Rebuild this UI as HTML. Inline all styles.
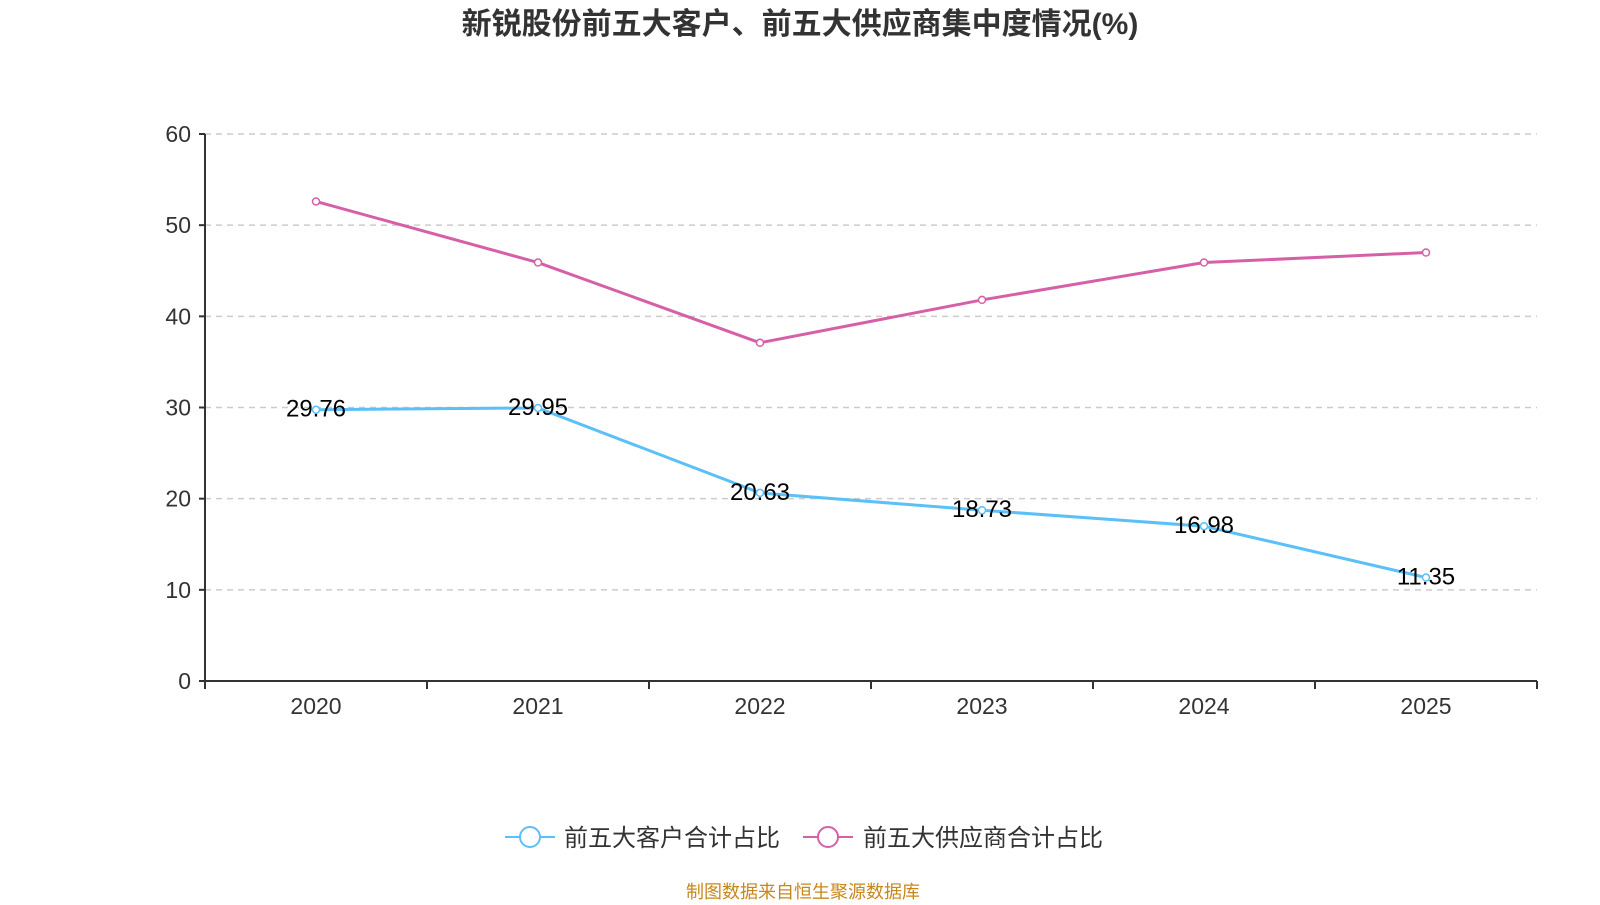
<!DOCTYPE html>
<html><head><meta charset="utf-8"><style>
body{margin:0;background:#fff;width:1600px;height:900px;overflow:hidden;font-family:"Liberation Sans","Noto Sans CJK SC",sans-serif}
</style></head><body>
<svg id="c" width="1600" height="900">
<text x="800" y="34" text-anchor="middle" font-size="30" font-weight="bold" fill="#333">新锐股份前五大客户、前五大供应商集中度情况(%)</text>
<g id="grid"></g><g id="axes"></g><g id="series"></g>
<g>
<g><line x1="505" y1="837" x2="555" y2="837" stroke="#5bc0f8" stroke-width="2"/><circle cx="530" cy="837" r="10" fill="#fff" stroke="#5bc0f8" stroke-width="2"/><text x="564" y="846" font-size="24" fill="#333">前五大客户合计占比</text></g>
<g><line x1="803" y1="837" x2="853" y2="837" stroke="#d660a8" stroke-width="2"/><circle cx="828" cy="837" r="10" fill="#fff" stroke="#d660a8" stroke-width="2"/><text x="863" y="846" font-size="24" fill="#333">前五大供应商合计占比</text></g>
</g>
<text x="803" y="898" text-anchor="middle" font-size="18" fill="#c8871a">制图数据来自恒生聚源数据库</text>
</svg>
<script>
const categories=["2020","2021","2022","2023","2024","2025"];
const customers=[29.76,29.95,20.63,18.73,16.98,11.35];
const suppliers=[52.6,45.9,37.1,41.8,45.9,47.0];
const yTicks=[0,10,20,30,40,50,60];
const NS="http://www.w3.org/2000/svg";
const L=205,R=1537,T=134,B=681;
const bw=(R-L)/categories.length;
const xs=i=>L+bw*(i+0.5);
const ys=v=>B-(v/60)*(B-T);
function mk(p,tag,a,t){const e=document.createElementNS(NS,tag);for(const k in a)e.setAttribute(k,a[k]);if(t!=null)e.textContent=t;p.appendChild(e);return e;}
const g=document.getElementById('grid'),ax=document.getElementById('axes'),s=document.getElementById('series');
yTicks.forEach(v=>{
 if(v>0){const l=mk(g,'line',{x1:L,x2:R,y1:ys(v),y2:ys(v),stroke:'#ccc','stroke-dasharray':'6,5','stroke-width':1.5});
 
 }
 mk(ax,'line',{x1:L-6,x2:L,y1:ys(v),y2:ys(v),stroke:'#333','stroke-width':2});
 const t=mk(ax,'text',{x:L-14,y:ys(v)+8,'text-anchor':'end','font-size':23,fill:'#333'},v);
 
 
});
const ya=mk(ax,'line',{x1:L,x2:L,y1:T,y2:B,stroke:'#333','stroke-width':2});


const xa=mk(ax,'line',{x1:L,x2:R,y1:B,y2:B,stroke:'#333','stroke-width':2});


for(let i=0;i<=categories.length;i++)mk(ax,'line',{x1:L+bw*i,x2:L+bw*i,y1:B,y2:B+8,stroke:'#333','stroke-width':2});
categories.forEach((c,i)=>{const t=mk(ax,'text',{x:xs(i),y:B+33,'text-anchor':'middle','font-size':23,fill:'#333'},c);
 
 });
function draw(vals,col,name,labels){
 const p=mk(s,'polyline',{points:vals.map((v,i)=>xs(i)+','+ys(v)).join(' '),fill:'none',stroke:col,'stroke-width':3});
 
 
 vals.forEach((v,i)=>{const c=mk(s,'circle',{cx:xs(i),cy:ys(v),r:3.5,fill:'#fff',stroke:col,'stroke-width':1.5});
  
  
  if(labels){const t=mk(s,'text',{x:xs(i),y:ys(v)+7,'text-anchor':'middle','font-size':24,fill:'#000'},v.toFixed(2));
   
   }
 });
}
draw(suppliers,'#d660a8','suppliers',false);
draw(customers,'#5bc0f8','customers',true);
</script>
</body></html>
